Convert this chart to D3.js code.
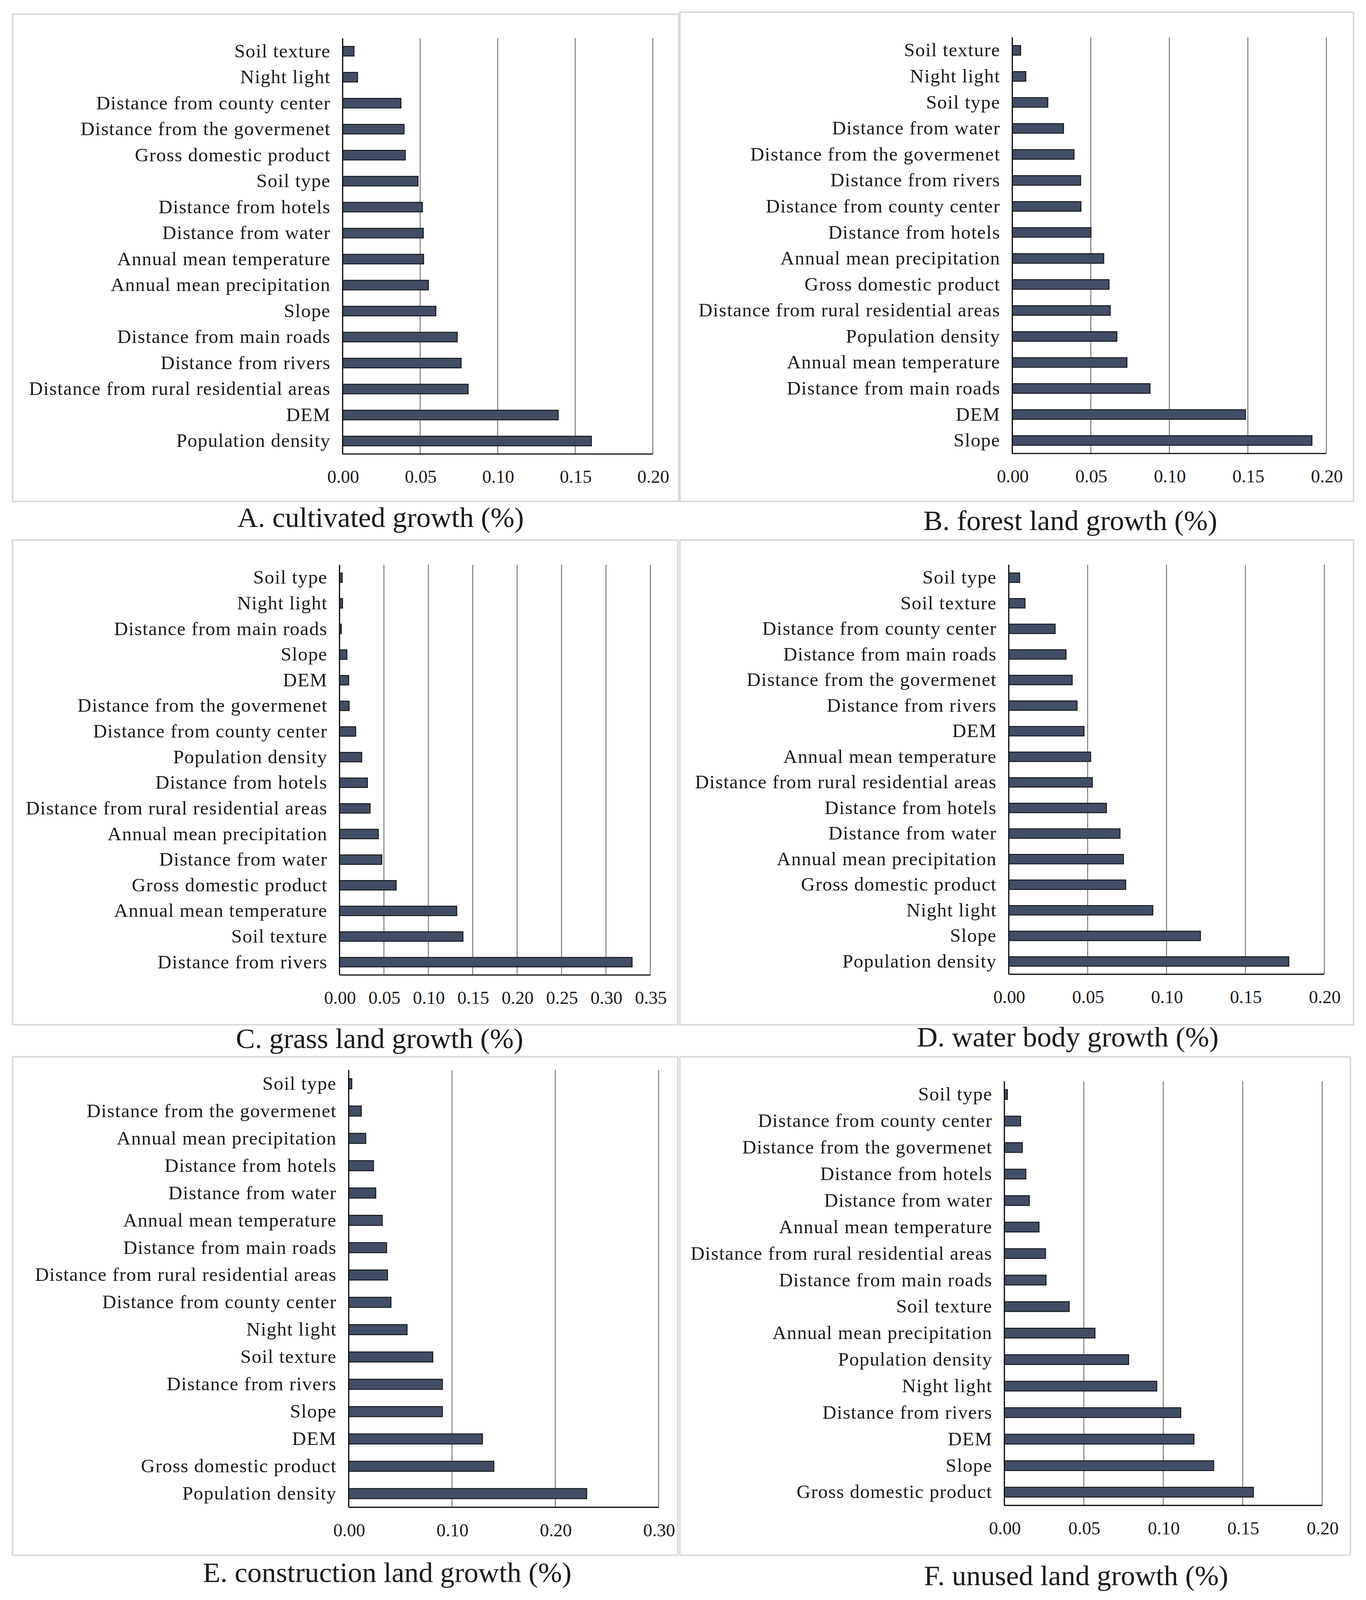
<!DOCTYPE html>
<html>
<head>
<meta charset="utf-8">
<script src="https://cdn.jsdelivr.net/npm/d3@7/dist/d3.min.js"></script>
<style>
  html, body { margin: 0; padding: 0; background: #fff; overflow: hidden; }
  svg { display: block; width: 100vw; height: 100vh; }
  text { font-family: "Liberation Serif", "Times New Roman", serif; fill: #1a1a1a; }
</style>
</head>
<body>
<div id="chart"></div>
<script>
// ---- data (top bar first) ----
var catsA = ["Soil texture", "Night light", "Distance from county center", "Distance from the govermenet",
  "Gross domestic product", "Soil type", "Distance from hotels", "Distance from water",
  "Annual mean temperature", "Annual mean precipitation", "Slope", "Distance from main roads",
  "Distance from rivers", "Distance from rural residential areas", "DEM", "Population density"];
var valsA = [0.0073, 0.0096, 0.0376, 0.0396, 0.0404, 0.0486, 0.0514, 0.0520,
  0.0522, 0.0553, 0.0601, 0.0739, 0.0764, 0.0809, 0.1390, 0.1604];
var ticksA = [0, 0.05, 0.10, 0.15, 0.20];

var catsB = ["Soil texture", "Night light", "Soil type", "Distance from water", "Distance from the govermenet",
  "Distance from rivers", "Distance from county center", "Distance from hotels", "Annual mean precipitation",
  "Gross domestic product", "Distance from rural residential areas", "Population density",
  "Annual mean temperature", "Distance from main roads", "DEM", "Slope"];
var valsB = [0.0053, 0.0086, 0.0226, 0.0326, 0.0393, 0.0435, 0.0437, 0.0501,
  0.0582, 0.0616, 0.0624, 0.0666, 0.0730, 0.0877, 0.1485, 0.1908];
var ticksB = [0, 0.05, 0.10, 0.15, 0.20];

var catsC = ["Soil type", "Night light", "Distance from main roads", "Slope", "DEM",
  "Distance from the govermenet", "Distance from county center", "Population density",
  "Distance from hotels", "Distance from rural residential areas", "Annual mean precipitation",
  "Distance from water", "Gross domestic product", "Annual mean temperature", "Soil texture",
  "Distance from rivers"];
var valsC = [0.0030, 0.0034, 0.0020, 0.0083, 0.0103, 0.0108, 0.0182, 0.0250,
  0.0314, 0.0344, 0.0437, 0.0476, 0.0638, 0.1320, 0.1390, 0.3294];
var ticksC = [0, 0.05, 0.10, 0.15, 0.20, 0.25, 0.30, 0.35];

var catsD = ["Soil type", "Soil texture", "Distance from county center", "Distance from main roads",
  "Distance from the govermenet", "Distance from rivers", "DEM", "Annual mean temperature",
  "Distance from rural residential areas", "Distance from hotels", "Distance from water",
  "Annual mean precipitation", "Gross domestic product", "Night light", "Slope", "Population density"];
var valsD = [0.0069, 0.0103, 0.0294, 0.0363, 0.0402, 0.0433, 0.0477, 0.0519,
  0.0530, 0.0619, 0.0705, 0.0727, 0.0741, 0.0913, 0.1215, 0.1775];
var ticksD = [0, 0.05, 0.10, 0.15, 0.20];

var catsE = ["Soil type", "Distance from the govermenet", "Annual mean precipitation", "Distance from hotels",
  "Distance from water", "Annual mean temperature", "Distance from main roads",
  "Distance from rural residential areas", "Distance from county center", "Night light", "Soil texture",
  "Distance from rivers", "Slope", "DEM", "Gross domestic product", "Population density"];
var valsE = [0.0030, 0.0122, 0.0165, 0.0240, 0.0262, 0.0325, 0.0367, 0.0376,
  0.0409, 0.0565, 0.0814, 0.0907, 0.0907, 0.1295, 0.1405, 0.2304];
var ticksE = [0, 0.10, 0.20, 0.30];

var catsF = ["Soil type", "Distance from county center", "Distance from the govermenet", "Distance from hotels",
  "Distance from water", "Annual mean temperature", "Distance from rural residential areas",
  "Distance from main roads", "Soil texture", "Annual mean precipitation", "Population density",
  "Night light", "Distance from rivers", "DEM", "Slope", "Gross domestic product"];
var valsF = [0.0019, 0.0102, 0.0113, 0.0135, 0.0157, 0.0218, 0.0259, 0.0262,
  0.0408, 0.0570, 0.0782, 0.0959, 0.1110, 0.1193, 0.1317, 0.1567];
var ticksF = [0, 0.05, 0.10, 0.15, 0.20];

var titles = ["A. cultivated growth (%)", "B. forest land growth (%)", "C. grass land growth (%)",
  "D. water body growth (%)", "E. construction land growth (%)", "F. unused land growth (%)"];

// ---- layout (in a 1310 x 1570 design space, scaled to the page) ----
var VW = 1310, VH = 1570;
var layout = [
  {box: [12, 14, 651, 492],  x0: 328.6, x1: 626,   y0: 37.5,  y1: 445.5, tx: 365,  ty: 517},
  {box: [652, 12, 1298, 492], x0: 970.8, x1: 1272,  y0: 36.7,  y1: 445,   tx: 1026.5, ty: 520},
  {box: [12, 530, 650, 1005.5], x0: 325.6, x1: 623.7, y0: 554.3, y1: 956.7, tx: 364,  ty: 1028.5},
  {box: [652, 530, 1298, 1005.5], x0: 967.4, x1: 1270, y0: 554.3, y1: 956,  tx: 1024, ty: 1027},
  {box: [12, 1037, 650, 1526], x0: 334.4, x1: 631.6, y0: 1050,  y1: 1479,  tx: 371.3, ty: 1552.5},
  {box: [652, 1037, 1295, 1526], x0: 963.2, x1: 1268, y0: 1061, y1: 1477.2, tx: 1032, ty: 1555.5}
];
var series = [
  [catsA, valsA, ticksA], [catsB, valsB, ticksB], [catsC, valsC, ticksC],
  [catsD, valsD, ticksD], [catsE, valsE, ticksE], [catsF, valsF, ticksF]
];

var svg = d3.select("#chart").append("svg")
  .attr("viewBox", "0 0 " + VW + " " + VH)
  .attr("preserveAspectRatio", "none");

svg.append("rect").attr("width", VW).attr("height", VH).attr("fill", "#fff");

series.forEach(function(s, i) {
  var L = layout[i];
  var cats = s[0], vals = s[1], ticks = s[2];
  var data = cats.map(function(c, j) { return {name: c, value: vals[j]}; });

  // panel frame
  svg.append("rect")
    .attr("x", L.box[0]).attr("y", L.box[1])
    .attr("width", L.box[2] - L.box[0]).attr("height", L.box[3] - L.box[1])
    .attr("fill", "none").attr("stroke", "#dadada").attr("stroke-width", 1.5);

  var x = d3.scaleLinear().domain([0, ticks[ticks.length - 1]]).range([L.x0, L.x1]);
  var y = d3.scaleBand().domain(cats).range([L.y0, L.y1]).paddingInner(0.63).paddingOuter(0.315);

  var g = svg.append("g");

  // vertical gridlines
  g.selectAll(".grid").data(ticks.slice(1)).enter().append("line")
    .attr("x1", function(d) { return x(d); }).attr("x2", function(d) { return x(d); })
    .attr("y1", L.y0).attr("y2", L.y1)
    .attr("stroke", "#777").attr("stroke-width", 0.9);

  // bars
  g.selectAll(".bar").data(data).enter().append("rect")
    .attr("x", x(0))
    .attr("y", function(d) { return y(d.name); })
    .attr("width", function(d) { return x(d.value) - x(0); })
    .attr("height", y.bandwidth())
    .attr("fill", "#414e66")
    .attr("stroke", "#151515").attr("stroke-width", 0.9);

  // x axis (labels only)
  var xAxis = g.append("g").attr("transform", "translate(0," + L.y1 + ")")
    .call(d3.axisBottom(x).tickValues(ticks).tickFormat(d3.format(".2f")).tickSize(0).tickPadding(16));
  xAxis.select(".domain").remove();
  xAxis.selectAll("text").style("font-size", "17.5px").style("font-family", "Liberation Serif").attr("fill", "#1a1a1a");

  // y axis (category labels)
  var yAxis = g.append("g").attr("transform", "translate(" + L.x0 + ",0)")
    .call(d3.axisLeft(y).tickSize(0).tickPadding(11.5));
  yAxis.select(".domain").remove();
  yAxis.selectAll("text").style("font-size", "18.5px").style("letter-spacing", "0.55px")
    .style("font-family", "Liberation Serif").attr("fill", "#1a1a1a");

  // axis lines
  g.append("line").attr("x1", L.x0).attr("x2", L.x0).attr("y1", L.y0).attr("y2", L.y1)
    .attr("stroke", "#111").attr("stroke-width", 1.2);
  g.append("line").attr("x1", L.x0).attr("x2", L.x1).attr("y1", L.y1).attr("y2", L.y1)
    .attr("stroke", "#111").attr("stroke-width", 1.2);

  // panel caption
  svg.append("text")
    .attr("x", L.tx).attr("y", L.ty)
    .attr("text-anchor", "middle")
    .style("font-size", "27.5px")
    .text(titles[i]);
});
</script>
</body>
</html>
